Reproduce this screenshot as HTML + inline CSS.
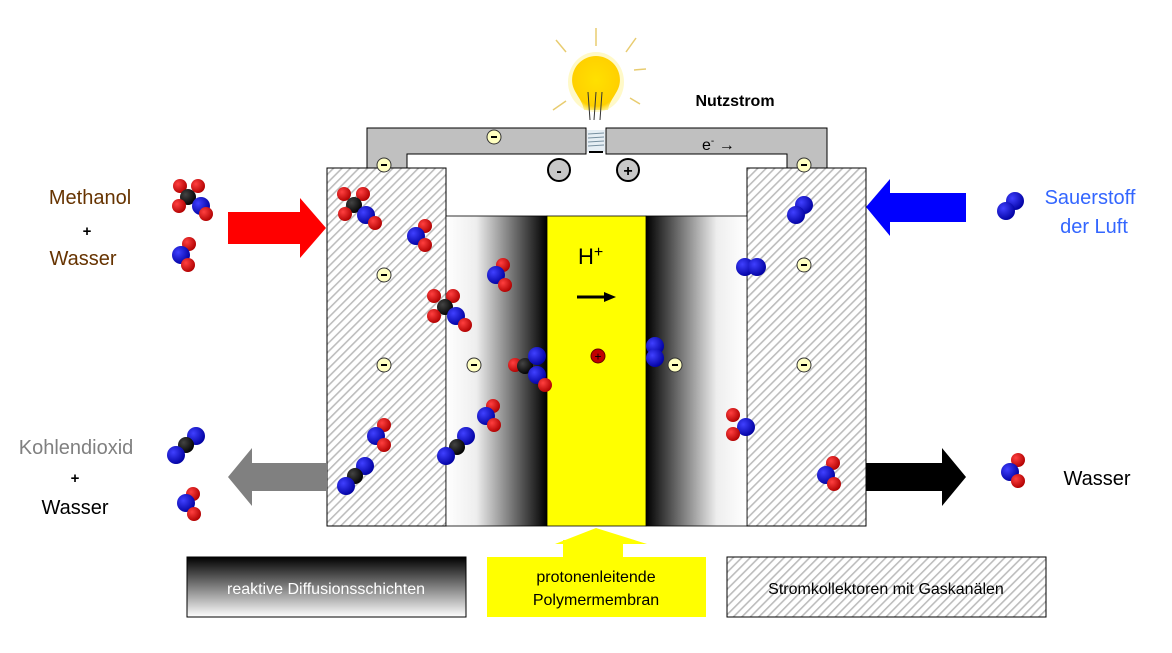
<!DOCTYPE html>
<html><head><meta charset="utf-8"><style>
body{margin:0;background:#fff}
svg{display:block;font-family:"Liberation Sans",sans-serif}
</style></head><body>
<svg width="1172" height="653" viewBox="0 0 1172 653">
<defs>
<pattern id="hatch" width="6" height="6" patternUnits="userSpaceOnUse" patternTransform="rotate(45)">
<rect width="6" height="6" fill="#fff"/><rect width="1.6" height="6" fill="#bdbdbd"/></pattern>
<linearGradient id="gL" x1="0" x2="1"><stop offset="0" stop-color="#fff"/><stop offset="0.3" stop-color="#eee"/><stop offset="1" stop-color="#000"/></linearGradient>
<linearGradient id="gR" x1="0" x2="1"><stop offset="0" stop-color="#000"/><stop offset="0.7" stop-color="#eee"/><stop offset="1" stop-color="#fff"/></linearGradient>
<linearGradient id="gV" x1="0" y1="0" x2="0" y2="1"><stop offset="0" stop-color="#000"/><stop offset="1" stop-color="#fff"/></linearGradient>
<radialGradient id="rO" cx="0.35" cy="0.35" r="0.7"><stop offset="0" stop-color="#ff4040"/><stop offset="1" stop-color="#b00000"/></radialGradient>
<radialGradient id="rN" cx="0.35" cy="0.35" r="0.7"><stop offset="0" stop-color="#4040ff"/><stop offset="1" stop-color="#0000a0"/></radialGradient>
<radialGradient id="rC" cx="0.35" cy="0.35" r="0.7"><stop offset="0" stop-color="#444"/><stop offset="1" stop-color="#000"/></radialGradient>
<radialGradient id="bulb" cx="0.5" cy="0.45" r="0.6"><stop offset="0" stop-color="#ffe000"/><stop offset="0.8" stop-color="#ffd000"/><stop offset="1" stop-color="#fff6a0"/></radialGradient>
<g id="el"><circle r="7" fill="#ffffc0" stroke="#333"/><rect x="-3" y="-1" width="6" height="2"/></g>
<circle id="O" r="7" fill="url(#rO)"/>
<circle id="N" r="9" fill="url(#rN)"/>
<circle id="C" r="8" fill="url(#rC)"/>
</defs>

<g>
<path d="M367,128 H586 V154 H407 V168 H367 Z" fill="#c0c0c0" stroke="#000"/>
<path d="M606,128 H827 V168 H787 V154 H606 Z" fill="#c0c0c0" stroke="#000"/>
<rect x="587" y="130" width="18" height="22" fill="#e6eef4"/>
<g stroke="#7890a0" stroke-width="1"><line x1="588" y1="134" x2="604" y2="133"/><line x1="588" y1="138" x2="604" y2="137"/><line x1="588" y1="142" x2="604" y2="141"/><line x1="588" y1="146" x2="604" y2="145"/></g>
<line x1="589" y1="152" x2="603" y2="152" stroke="#000" stroke-width="2"/>
<text x="702" y="150" font-size="16">e<tspan font-size="10" dy="-6">-</tspan><tspan dy="6"> →</tspan></text>
</g>
<g>
<ellipse cx="596" cy="82" rx="28" ry="30" fill="#fff6b0" opacity="0.7"/>
<path d="M572,80 a24,24 0 1 1 48,0 c0,12 -10,18 -12,30 h-24 c-2,-12 -12,-18 -12,-30z" fill="url(#bulb)"/>
<path d="M590,120 L588,92 M600,120 L602,92 M594,120 L596,92" stroke="#333" stroke-width="1"/>
<g stroke="#e8cc70" stroke-width="1.5"><line x1="596" y1="28" x2="596" y2="46"/><line x1="556" y1="40" x2="566" y2="52"/><line x1="636" y1="38" x2="626" y2="52"/><line x1="634" y1="70" x2="646" y2="69"/><line x1="553" y1="110" x2="566" y2="101"/><line x1="630" y1="98" x2="640" y2="104"/></g>
</g>
<text x="735" y="106" font-size="16" font-weight="bold" text-anchor="middle">Nutzstrom</text>

<rect x="327" y="168" width="119" height="358" fill="url(#hatch)" stroke="#000"/>
<rect x="747" y="168" width="119" height="358" fill="url(#hatch)" stroke="#000"/>
<rect x="446" y="216" width="101" height="310" fill="url(#gL)" stroke="#000" stroke-width="0.8"/>
<rect x="646" y="216" width="101" height="310" fill="url(#gR)" stroke="#000" stroke-width="0.8"/>
<rect x="547" y="216" width="99" height="310" fill="#ffff00" stroke="#000" stroke-width="0.8"/>
<text x="578" y="264" font-size="22">H<tspan font-size="16" dy="-7">+</tspan></text>
<g><line x1="577" y1="297" x2="606" y2="297" stroke="#000" stroke-width="3"/><path d="M604,292 L616,297 L604,302Z"/></g>
<g><circle cx="598" cy="356" r="7" fill="#c00000" stroke="#600"/><text x="598" y="360.5" font-size="12" text-anchor="middle">+</text></g>

<g>
<circle cx="559" cy="170" r="11" fill="#c8c8c8" stroke="#000" stroke-width="2"/><text x="559" y="176" font-size="16" font-weight="bold" text-anchor="middle">-</text>
<circle cx="628" cy="170" r="11" fill="#c8c8c8" stroke="#000" stroke-width="2"/><text x="628" y="176" font-size="16" font-weight="bold" text-anchor="middle">+</text>
</g>

<g>
<use href="#el" x="494" y="137"/><use href="#el" x="384" y="165"/><use href="#el" x="804" y="165"/>
<use href="#el" x="384" y="275"/><use href="#el" x="384" y="365"/><use href="#el" x="804" y="265"/>
<use href="#el" x="804" y="365"/><use href="#el" x="474" y="365"/><use href="#el" x="675" y="365"/>
</g>

<g>
<use href="#O" x="180" y="186"/><use href="#O" x="198" y="186"/><use href="#C" x="188" y="197"/><use href="#O" x="179" y="206"/><use href="#N" x="201" y="206"/><use href="#O" x="206" y="214"/>
<use href="#O" x="189" y="244"/><use href="#N" x="181" y="255"/><use href="#O" x="188" y="265"/>
<use href="#O" x="344" y="194"/><use href="#O" x="363" y="194"/><use href="#C" x="354" y="205"/><use href="#O" x="345" y="214"/><use href="#N" x="366" y="215"/><use href="#O" x="375" y="223"/>
<use href="#O" x="425" y="226"/><use href="#N" x="416" y="236"/><use href="#O" x="425" y="245"/>
<use href="#O" x="503" y="265"/><use href="#N" x="496" y="275"/><use href="#O" x="505" y="285"/>
<use href="#O" x="434" y="296"/><use href="#O" x="453" y="296"/><use href="#C" x="445" y="307"/><use href="#O" x="434" y="316"/><use href="#N" x="456" y="316"/><use href="#O" x="465" y="325"/>
<use href="#O" x="515" y="365"/><use href="#C" x="525" y="366"/><use href="#N" x="537" y="356"/><use href="#N" x="537" y="375"/><use href="#O" x="545" y="385"/>
<use href="#N" x="655" y="346"/><use href="#N" x="655" y="358"/>
<use href="#N" x="804" y="205"/><use href="#N" x="796" y="215"/>
<use href="#N" x="745" y="267"/><use href="#N" x="757" y="267"/>
<use href="#O" x="384" y="425"/><use href="#N" x="376" y="436"/><use href="#O" x="384" y="445"/>
<use href="#O" x="493" y="406"/><use href="#N" x="486" y="416"/><use href="#O" x="494" y="425"/>
<use href="#N" x="466" y="436"/><use href="#C" x="457" y="447"/><use href="#N" x="446" y="456"/>
<use href="#N" x="365" y="466"/><use href="#C" x="355" y="476"/><use href="#N" x="346" y="486"/>
<use href="#N" x="196" y="436"/><use href="#C" x="186" y="445"/><use href="#N" x="176" y="455"/>
<use href="#O" x="193" y="494"/><use href="#N" x="186" y="503"/><use href="#O" x="194" y="514"/>
<use href="#O" x="733" y="415"/><use href="#N" x="746" y="427"/><use href="#O" x="733" y="434"/>
<use href="#O" x="833" y="463"/><use href="#N" x="826" y="475"/><use href="#O" x="834" y="484"/>
<use href="#N" x="1015" y="201"/><use href="#N" x="1006" y="211"/>
<use href="#O" x="1018" y="460"/><use href="#N" x="1010" y="472"/><use href="#O" x="1018" y="481"/>
</g>

<path d="M228,212 H300 V198 L326,228 L300,258 V244 H228Z" fill="#ff0000"/>
<path d="M966,193 H890 V179 L866,207 L890,236 V222 H966Z" fill="#0000ff"/>
<path d="M327,463 H252 V448 L228,477 L252,506 V491 H327Z" fill="#808080"/>
<path d="M866,463 H942 V448 L966,477 L942,506 V491 H866Z" fill="#000"/>

<g font-size="20" text-anchor="middle">
<text x="90" y="204" fill="#663300">Methanol</text>
<text x="87" y="236" font-size="15" font-weight="bold">+</text>
<text x="83" y="265" fill="#663300">Wasser</text>
<text x="1090" y="204" fill="#3366ff">Sauerstoff</text>
<text x="1094" y="233" fill="#3366ff">der Luft</text>
<text x="76" y="454" fill="#808080">Kohlendioxid</text>
<text x="75" y="483" font-size="15" font-weight="bold">+</text>
<text x="75" y="514">Wasser</text>
<text x="1097" y="485">Wasser</text>
</g>

<g>
<rect x="187" y="557" width="279" height="60" fill="url(#gV)" stroke="#000"/>
<text x="326" y="594" font-size="16" fill="#fff" text-anchor="middle">reaktive Diffusionsschichten</text>
<path d="M555,544 L596,528 L647,544Z" fill="#ffff00"/>
<rect x="563" y="540" width="60" height="20" fill="#ffff00"/>
<rect x="487" y="557" width="219" height="60" fill="#ffff00"/>
<text x="596" y="582" font-size="16" text-anchor="middle">protonenleitende</text>
<text x="596" y="605" font-size="16" text-anchor="middle">Polymermembran</text>
<rect x="727" y="557" width="319" height="60" fill="url(#hatch)" stroke="#000"/>
<text x="886" y="594" font-size="16" text-anchor="middle">Stromkollektoren mit Gaskanälen</text>
</g>
</svg>
</body></html>
